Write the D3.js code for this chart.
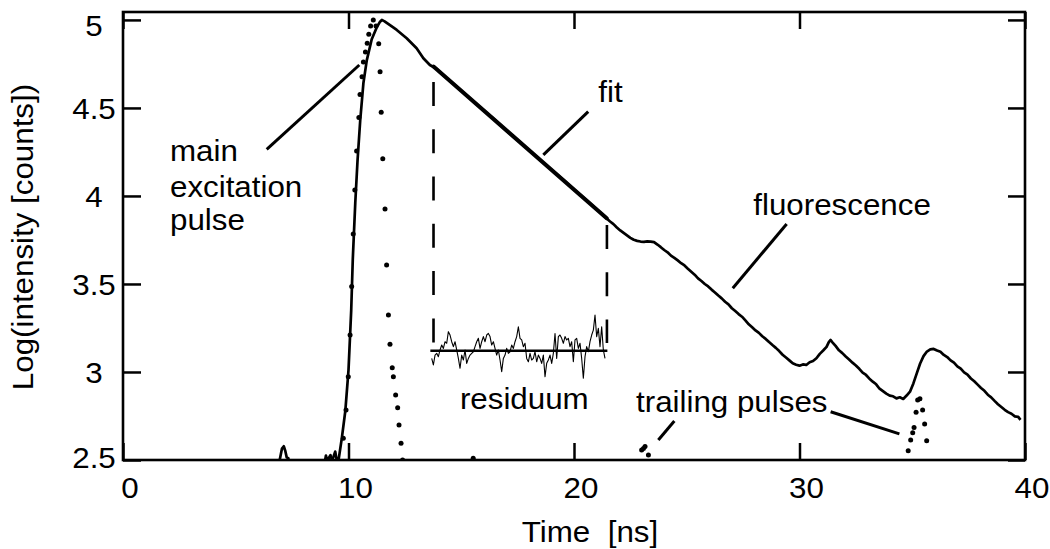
<!DOCTYPE html>
<html><head><meta charset="utf-8">
<script src="https://cdn.jsdelivr.net/npm/d3@7"></script>
<style>
html,body{margin:0;padding:0;background:#fff;}
svg{display:block;}
text{font-family:Helvetica,"Liberation Sans",Arial,sans-serif;fill:#000;}
</style></head>
<body>
<script>
// ---------------- data ----------------
const xTicks = [0, 10, 20, 30, 40];
const yTicks = [2.5, 3, 3.5, 4, 4.5, 5];
const xTickLabels = ["0", "10", "20", "30", "40"];
const yTickLabels = ["2.5", "3", "3.5", "4", "4.5", "5"];
const xTitle = "Time\u00a0\u00a0[ns]";
const yTitle = "Log(intensity [counts])";

// measured fluorescence decay [time ns, log10 counts]
const fluorescence = [
  [6.5,2.45],[6.9,2.47],[6.98,2.52],[7.05,2.565],[7.13,2.578],[7.2,2.55],[7.26,2.515],[7.33,2.51],[7.4,2.47],
  [8.7,2.46],[8.95,2.49],[9.0,2.525],[9.06,2.49],[9.14,2.515],[9.2,2.528],[9.27,2.498],[9.34,2.52],[9.41,2.548],[9.47,2.505],[9.53,2.50],
  [9.56,2.50],[9.71,2.63],[9.86,2.78],[10.0,3.01],[10.12,3.35],[10.19,3.64],[10.30,3.96],[10.40,4.20],[10.52,4.43],[10.66,4.64],
  [10.81,4.77],[11.03,4.89],[11.26,4.96],[11.40,4.99],[11.48,5.00],[11.6,4.992],[11.84,4.97],[12.14,4.943],[12.58,4.896],[13.02,4.839],
  [13.32,4.782],[13.61,4.744],[13.91,4.722],[14.07,4.700],[14.5,4.653],[15.0,4.598],[15.5,4.541],[16.0,4.485],[16.5,4.431],[17.0,4.371],
  [17.5,4.317],[18.0,4.261],[18.5,4.204],[19.0,4.149],[19.5,4.095],[20.0,4.036],[20.5,3.982],[21.0,3.924],[21.45,3.872],
  [21.6,3.855],[21.75,3.840],[21.9,3.821],[22.05,3.804],[22.2,3.790],[22.35,3.776],[22.5,3.762],[22.65,3.751],[22.8,3.745],[22.95,3.741],
  [23.1,3.739],[23.25,3.742],[23.4,3.741],[23.55,3.738],[23.7,3.724],[23.85,3.709],[24.0,3.693],[24.15,3.680],[24.3,3.661],[24.45,3.648],
  [24.6,3.634],[24.75,3.618],[24.9,3.605],[25.05,3.587],[25.2,3.570],[25.35,3.553],[25.5,3.532],[25.65,3.517],[25.8,3.500],[25.95,3.486],
  [26.1,3.468],[26.25,3.452],[26.4,3.434],[26.55,3.418],[26.7,3.399],[26.85,3.384],[27.0,3.362],[27.15,3.346],[27.3,3.329],[27.45,3.314],
  [27.6,3.293],[27.75,3.271],[27.9,3.254],[28.05,3.236],[28.2,3.222],[28.35,3.203],[28.5,3.188],[28.65,3.170],[28.8,3.153],[28.95,3.137],
  [29.1,3.119],[29.25,3.098],[29.4,3.082],[29.55,3.066],[29.7,3.049],[29.85,3.041],[30.0,3.036],[30.15,3.043],[30.3,3.040],[30.45,3.055],
  [30.6,3.062],[30.75,3.078],[30.9,3.103],[31.05,3.122],[31.2,3.143],[31.3,3.170],[31.38,3.182],[31.45,3.170],[31.6,3.148],[31.75,3.123],
  [31.9,3.107],[32.05,3.088],[32.2,3.071],[32.35,3.053],[32.5,3.037],[32.65,3.018],[32.8,2.996],[32.95,2.983],[33.1,2.962],[33.25,2.945],
  [33.4,2.930],[33.55,2.905],[33.7,2.891],[33.85,2.877],[34.0,2.866],[34.15,2.862],[34.3,2.850],[34.45,2.856],[34.6,2.847],[34.75,2.866],
  [34.9,2.888],[35.05,2.935],[35.2,2.992],[35.35,3.048],[35.5,3.090],[35.65,3.116],[35.8,3.128],[35.95,3.131],[36.1,3.122],[36.25,3.115],
  [36.4,3.097],[36.55,3.085],[36.7,3.066],[36.85,3.053],[37.0,3.032],[37.15,3.019],[37.3,2.998],[37.45,2.985],[37.6,2.963],[37.75,2.947],
  [37.9,2.928],[38.05,2.909],[38.2,2.893],[38.35,2.871],[38.5,2.856],[38.65,2.836],[38.8,2.817],[38.95,2.801],[39.1,2.785],[39.25,2.772],
  [39.4,2.763],[39.55,2.748],[39.7,2.745],[39.8,2.728]
];

// fitted single exponential (straight in log scale) [t, log]
const fitLine = [[13.77, 4.735], [21.45, 3.874]];

// fit window boundaries (time) and their vertical extent (log units)
const fitWindow = [13.77, 21.46];
const windowLeftSpan = [4.648, 3.165];
const windowRightSpan = [3.835, 3.165];

// residuals (log units) drawn around a zero line
const residualZero = 3.121;
const residualStart = 13.69, residualEnd = 21.375;
const residuals = [
  -0.044,-0.081,-0.025,-0.015,-0.034,0.004,0.032,0.013,0.051,0.042,0.108,0.089,0.051,0.023,0.051,0.004,-0.044,-0.100,-0.025,-0.053,
  0.004,-0.072,-0.044,-0.025,-0.015,-0.006,0.023,0.051,0.070,0.013,0.051,0.080,0.051,0.089,0.098,0.080,0.032,0.051,0.013,-0.025,
  0.004,-0.053,-0.119,-0.044,-0.025,0.013,-0.015,-0.006,0.032,0.013,0.051,0.080,0.136,0.070,0.061,0.023,0.042,-0.044,-0.063,-0.015,
  -0.053,-0.044,-0.006,-0.063,-0.025,-0.044,-0.072,-0.025,-0.148,-0.072,-0.053,-0.025,-0.072,-0.015,0.098,-0.044,0.080,0.089,0.070,0.042,
  0.080,0.061,0.070,0.023,0.051,-0.063,0.061,0.070,0.013,0.042,-0.044,-0.157,-0.034,0.023,-0.006,0.051,0.089,0.117,0.203,0.080,
  0.127,0.023,0.136,0.004,-0.044
];
const residualSpan = [13.63, 21.48];

// excitation pulse (instrument response) samples
const pulseMain = [
  [9.77,2.623],[9.89,2.784],[9.99,2.973],[10.07,3.21],[10.14,3.485],[10.21,3.784],[10.28,4.034],[10.36,4.256],[10.46,4.445],[10.51,4.576],
  [10.60,4.677],[10.66,4.761],[10.75,4.818],[10.83,4.868],[10.90,4.919],[10.98,4.966],[11.10,5.0],[11.22,4.966],[11.34,4.864],[11.40,4.705],
  [11.45,4.476],[11.52,4.212],[11.62,3.926],[11.69,3.608],[11.77,3.324],[11.84,3.157],[11.94,3.024],[11.99,2.973],[12.09,2.869],[12.18,2.797],
  [12.24,2.699],[12.33,2.595],[12.40,2.50],[15.53,2.51]
];
const pulseTrail1 = [[23.0,2.557],[23.08,2.566],[23.15,2.576],[23.30,2.528]];
const pulseTrail2 = [
  [34.82,2.553],[34.93,2.614],[35.02,2.655],[35.08,2.684],[35.17,2.771],[35.24,2.841],[35.34,2.848],[35.46,2.784],[35.55,2.705],[35.64,2.61]
];

// annotations: text lines anchored at [t, log]
const labels = [
  {text:"main", at:[2.084, 4.199]},
  {text:"excitation", at:[2.084, 3.994]},
  {text:"pulse", at:[2.084, 3.807]},
  {text:"fit", at:[21.08, 4.536]},
  {text:"fluorescence", at:[27.95, 3.892]},
  {text:"residuum", at:[14.94, 2.788]},
  {text:"trailing pulses", at:[22.75, 2.774]}
];
const pointers = [
  [[6.373,4.265],[10.479,4.744]],
  [[18.64,4.233],[20.63,4.479]],
  [[27.04,3.476],[29.43,3.841]],
  [[23.74,2.614],[24.45,2.722]],
  [[31.38,2.774],[34.43,2.648]]
];

// ---------------- drawing ----------------
const W = 1050, H = 549;
const FS = 29, SX = 1.08;
const x = d3.scaleLinear().domain([0, 40]).range([123, 1025]);
const y = d3.scaleLinear().domain([2.5, 5.045]).range([460, 12]);

const svg = d3.select("body").append("svg").attr("width", W).attr("height", H);

svg.append("defs").append("clipPath").attr("id","plotclip")
  .append("rect").attr("x", x(0)).attr("y", y(5.045))
  .attr("width", x(40)-x(0)).attr("height", y(2.5)-y(5.045));

// axes ticks (inward)
const tickLen = 17;
function styleAxis(g){
  g.select(".domain").remove();
  g.selectAll(".tick line").attr("stroke","#000").attr("stroke-width",2.5);
  g.selectAll(".tick text").remove();
}
svg.append("g").attr("transform",`translate(0,${y(2.5)})`)
  .call(d3.axisBottom(x).tickValues(xTicks).tickSize(-tickLen)).call(styleAxis);
svg.append("g").attr("transform",`translate(0,${y(5.045)})`)
  .call(d3.axisTop(x).tickValues(xTicks).tickSize(-tickLen)).call(styleAxis);
svg.append("g").attr("transform",`translate(${x(0)},0)`)
  .call(d3.axisLeft(y).tickValues(yTicks).tickSize(-tickLen-1)).call(styleAxis);
svg.append("g").attr("transform",`translate(${x(40)},0)`)
  .call(d3.axisRight(y).tickValues(yTicks).tickSize(-tickLen)).call(styleAxis);

// frame
svg.append("rect").attr("x", x(0)).attr("y", y(5.045))
  .attr("width", x(40)-x(0)).attr("height", y(2.5)-y(5.045))
  .attr("fill","none").attr("stroke","#000").attr("stroke-width",2.6);

// tick labels
const yNudge = {"5":16, "2.5":8};
yTicks.forEach((v,i)=>{
  const lab = yTickLabels[i];
  svg.append("text")
    .attr("transform",`translate(${x(0)-29},${y(v)+(yNudge[lab]!==undefined?yNudge[lab]:10.7)}) scale(${SX},1)`)
    .attr("text-anchor","middle").attr("font-size",FS).text(lab);
});
xTicks.forEach((v,i)=>{
  svg.append("text")
    .attr("transform",`translate(${x(v)+7},498) scale(${SX},1)`)
    .attr("text-anchor","middle").attr("font-size",FS).text(xTickLabels[i]);
});
svg.append("text")
  .attr("transform",`translate(${x(20)+16},542) scale(${SX},1)`)
  .attr("text-anchor","middle").attr("font-size",FS).text(xTitle);
svg.append("text")
  .attr("transform",`translate(33,${(y(2.5)+y(5.045))/2+1}) rotate(-90) scale(${SX},1)`)
  .attr("text-anchor","middle").attr("font-size",FS).text(yTitle);

const plot = svg.append("g").attr("clip-path","url(#plotclip)");
const line = d3.line().x(d=>x(d[0])).y(d=>y(d[1]));

// fluorescence curve
plot.append("path").datum(fluorescence).attr("d", line)
  .attr("fill","none").attr("stroke","#000").attr("stroke-width",2.7).attr("stroke-linejoin","round");

// fit line overlay
plot.append("path").datum(fitLine).attr("d", line)
  .attr("fill","none").attr("stroke","#000").attr("stroke-width",4).attr("stroke-linecap","round");

// fit window dashed lines
[[fitWindow[0], windowLeftSpan],[fitWindow[1], windowRightSpan]].forEach(([t,span])=>{
  plot.append("line").attr("x1",x(t)).attr("x2",x(t)).attr("y1",y(span[0])).attr("y2",y(span[1]))
    .attr("stroke","#000").attr("stroke-width",2.6).attr("stroke-dasharray","24,23.3");
});

// residuals
const rStep = (residualEnd-residualStart)/(residuals.length-1);
const resData = residuals.map((r,i)=>[residualStart+i*rStep, residualZero+r]);
plot.append("path").datum(resData).attr("d", line)
  .attr("fill","none").attr("stroke","#000").attr("stroke-width",1.1).attr("stroke-linejoin","round");
plot.append("line").attr("x1",x(residualSpan[0])).attr("x2",x(residualSpan[1]))
  .attr("y1",y(residualZero)).attr("y2",y(residualZero))
  .attr("stroke","#000").attr("stroke-width",2.6);

// excitation pulse dots
plot.selectAll("circle.p").data(pulseMain.concat(pulseTrail1, pulseTrail2)).join("circle")
  .attr("class","p").attr("cx",d=>x(d[0])).attr("cy",d=>y(d[1])).attr("r",2.5).attr("fill","#000");

// annotation pointers
pointers.forEach(p=>{
  svg.append("line").attr("x1",x(p[0][0])).attr("y1",y(p[0][1])).attr("x2",x(p[1][0])).attr("y2",y(p[1][1]))
    .attr("stroke","#000").attr("stroke-width",3);
});
// annotation labels
labels.forEach(l=>{
  svg.append("text").attr("transform",`translate(${x(l.at[0])},${y(l.at[1])}) scale(${SX},1)`)
    .attr("font-size",FS).text(l.text);
});
</script>
</body></html>
